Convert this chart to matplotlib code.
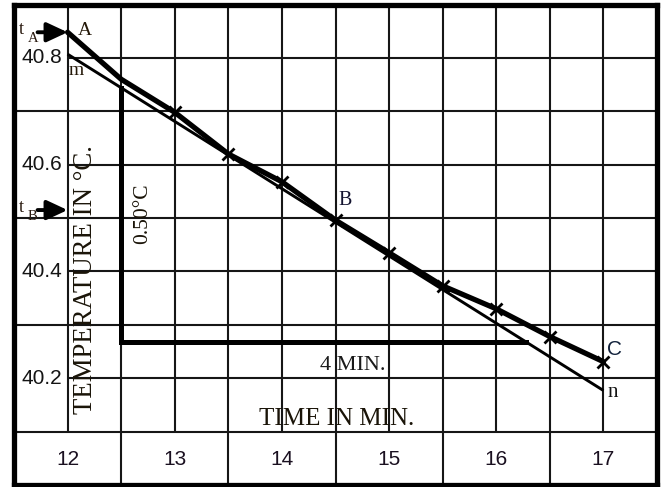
import matplotlib
matplotlib.use("Agg")
import matplotlib.pyplot as plt
import numpy as np

# ---------------- data ----------------
time_min = [12.0, 12.5, 13.0, 13.5, 14.0, 14.5, 15.0, 15.5, 16.0, 16.5, 17.0]
temp_c = [40.848, 40.760, 40.698, 40.620, 40.568, 40.496, 40.435, 40.373, 40.330, 40.278, 40.231]
first_marked = 2                      # crosses drawn from t = 13 min onward
mn_time = [12.0, 17.0]                # straight line m-n
mn_temp = [40.807, 40.177]
tri_time_start = 12.5                 # slope triangle
tri_temp_base = 40.268
x_tick_values = [12, 13, 14, 15, 16, 17]
x_tick_labels = ["12", "13", "14", "15", "16", "17"]
y_tick_values = [40.2, 40.4, 40.6, 40.8]
y_tick_labels = ["40.2", "40.4", "40.6", "40.8"]
t_A = 40.848
t_B = 40.515

SERIF = "Liberation Serif"
SANS = "Liberation Sans"

fig = plt.figure(figsize=(6.61, 4.87), dpi=100)
ax = fig.add_axes([14 / 661, 2 / 487, 643 / 661, 480.5 / 487])
ax.set_xlim(11.5, 17.5)
ax.set_ylim(40.0, 40.9)
ax.set_xticks([])
ax.set_yticks([])
for s in ax.spines.values():
    s.set_linewidth(3.8)
    s.set_color("black")

# ---------------- grid ----------------
gc = "#161616"
glw = 1.5
half_steps = np.arange(12.0, 17.01, 0.5)
ax.vlines(half_steps, 40.1, 40.9, colors=gc, lw=glw, zorder=1)
ax.vlines(np.arange(12.5, 16.51, 1.0), 40.0, 40.1, colors=gc, lw=glw, zorder=1)
ax.hlines([40.1, 40.3, 40.5, 40.7], 11.5, 17.5, colors=gc, lw=glw, zorder=1)
ax.hlines(y_tick_values, 12.0, 17.5, colors=gc, lw=glw, zorder=1)

# ---------------- tick labels ----------------
for xv, lab in zip(x_tick_values, x_tick_labels):
    ax.text(xv, 40.047, lab, family=SANS, fontsize=15, ha="center", va="center", color="#1a1020")
for yv, lab in zip(y_tick_values, y_tick_labels):
    ax.text(11.948, yv, lab, family=SANS, fontsize=15, ha="right", va="center", color="#141414")

# ---------------- lines ----------------
ax.plot(mn_time, mn_temp, color="black", lw=2.1, solid_capstyle="butt", zorder=3)
ax.plot(time_min, temp_c, color="black", lw=3.8, zorder=4, solid_capstyle="round")
ax.plot(time_min[first_marked:], temp_c[first_marked:], ls="none", marker="x",
        ms=8, mew=2.0, color="black", zorder=5)

# slope triangle
slope = (mn_temp[1] - mn_temp[0]) / (mn_time[1] - mn_time[0])
tri_top = mn_temp[0] + slope * (tri_time_start - mn_time[0])
tri_end = mn_time[0] + (tri_temp_base - mn_temp[0]) / slope
ax.plot([tri_time_start, tri_time_start, tri_end],
        [tri_top, tri_temp_base, tri_temp_base],
        color="black", lw=3.6, solid_joinstyle="miter", zorder=3)

# ---------------- t_A, t_B arrows ----------------
for val, sub in ((t_A, "A"), (t_B, "B")):
    ax.annotate("", xy=(12.0, val), xytext=(11.72, val),
                arrowprops=dict(arrowstyle="-|>,head_length=0.9,head_width=0.42",
                                lw=2.8, color="black", mutation_scale=14,
                                shrinkA=0, shrinkB=0), zorder=6)
    ax.annotate("t", xy=(11.5, val), xytext=(5, -2), textcoords="offset pixels",
                family=SERIF, fontsize=13, ha="left", va="baseline", color="#2a1a10")
    ax.annotate(sub, xy=(11.5, val), xytext=(14, -10), textcoords="offset pixels",
                family=SERIF, fontsize=10.5, ha="left", va="baseline", color="#2a1a10")

# ---------------- annotations ----------------
ax.text(12.162, 40.8435, "A", family=SERIF, fontsize=14, ha="center", va="baseline", color="#241808")
ax.text(12.08, 40.768, "m", family=SERIF, fontsize=14, ha="center", va="baseline", color="#241808")
ax.text(14.59, 40.5245, "B", family=SERIF, fontsize=14.5, ha="center", va="baseline", color="#141430")
ax.text(17.106, 40.2436, "C", family=SANS, fontsize=15, ha="center", va="baseline", color="#10203a")
ax.text(17.09, 40.165, "n", family=SERIF, fontsize=15, ha="center", va="baseline", color="#141414")
ax.text(14.662, 40.2155, "4 MIN.", family=SERIF, fontsize=16, ha="center", va="baseline", color="#1a1a1a")
ax.text(14.513, 40.1125, "TIME IN MIN.", family=SERIF, fontsize=18, ha="center", va="baseline", color="#1a1408")
ax.text(12.165, 40.384, "TEMPERATURE IN °C.", family=SERIF, fontsize=19.3, rotation=90,
        ha="center", va="center", color="#1a1408")
ax.text(12.7, 40.508, "0.50°C", family=SERIF, fontsize=15.5, rotation=90,
        ha="center", va="center", color="#1a1408")

fig.savefig("out.png", dpi=100)
